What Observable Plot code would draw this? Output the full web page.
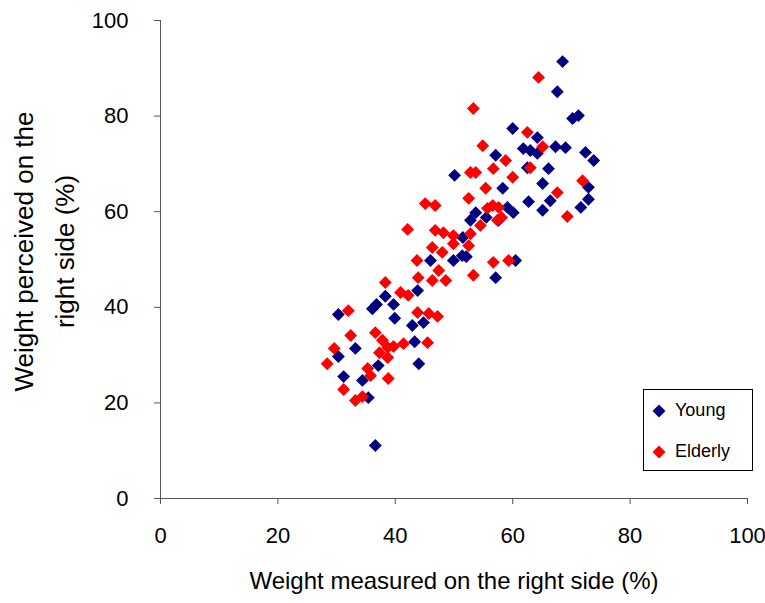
<!DOCTYPE html>
<html>
<head>
<meta charset="utf-8">
<script src="https://cdn.jsdelivr.net/npm/d3@7"></script>
<script src="https://cdn.jsdelivr.net/npm/@observablehq/plot@0.6"></script>
<style>
  html, body { margin: 0; padding: 0; background: #fff; }
  #wrap { position: relative; width: 765px; height: 603px; font-family: "Liberation Sans", Arial, sans-serif; }
  #legend { position: absolute; left: 643px; top: 389px; width: 108px; height: 80px; border: 1px solid #000; background: #fff; font-size: 18px; }
  #legend .row { position: absolute; left: 8px; display: flex; align-items: center; }
  #legend svg { margin-right: 9px; }
</style>
</head>
<body>
<div id="wrap"></div>
<script>
const seriesNames = ["Young", "Elderly"];
const seriesColors = ["#000080", "#FF0000"];
const xTicks = [0, 20, 40, 60, 80, 100];
const yTicks = [0, 20, 40, 60, 80, 100];
const xTitle = "Weight measured on the right side (%)";
const yTitle = "Weight perceived on the\nright side (%)";

const youngX = [30.3, 36.1, 36.8, 38.3, 39.7, 39.9, 42.9, 44.8, 43.3, 44.0, 33.2, 30.3, 31.2, 34.4, 37.1, 35.4, 36.6, 43.8,
  46.0, 49.9, 51.4, 52.1, 52.8, 51.5, 53.7, 55.5, 57.6, 57.1, 60.5, 57.1, 58.3, 59.1, 60.1, 62.7, 65.1, 66.4, 71.6, 72.9,
  72.9, 65.1, 62.5, 66.1, 73.8, 72.4, 69.0, 67.3, 64.2, 63.0, 61.8, 64.2, 60.0, 70.2, 71.2, 67.6, 68.5, 50.1];
const youngY = [38.5, 39.7, 40.6, 42.3, 40.6, 37.7, 36.2, 36.8, 32.8, 28.2, 31.4, 29.7, 25.5, 24.7, 27.8, 21.1, 11.1, 43.5,
  49.8, 49.8, 50.8, 50.6, 58.2, 54.6, 59.8, 58.8, 58.2, 46.2, 49.8, 71.8, 64.9, 60.9, 59.8, 62.1, 60.3, 62.3, 60.9, 62.6,
  65.1, 65.9, 69.2, 69.0, 70.7, 72.4, 73.4, 73.6, 72.2, 72.8, 73.2, 75.5, 77.4, 79.5, 80.1, 85.1, 91.4, 67.6];

const elderlyX = [32.0, 32.4, 29.6, 28.4, 31.2, 33.2, 34.4, 35.3, 35.8, 38.8, 36.6, 37.8, 38.7, 39.7, 37.3, 38.7, 41.4, 40.9,
  42.2, 43.8, 38.3, 42.1, 45.7, 47.2, 45.5, 46.8, 48.2, 49.9, 52.8, 46.3, 48.0, 49.9, 52.5, 43.7, 47.4, 46.3, 48.6, 43.9,
  53.3, 56.7, 59.3, 45.1, 46.8, 52.5, 55.7, 57.6, 56.6, 57.4, 58.1, 54.5, 55.4, 52.8, 53.7, 56.7, 58.8, 60.0, 63.0, 62.5,
  65.1, 54.9, 53.3, 64.4, 67.6, 71.9, 69.3];
const elderlyY = [39.3, 34.1, 31.4, 28.2, 22.8, 20.5, 21.3, 27.2, 25.7, 25.1, 34.7, 33.1, 31.6, 31.8, 30.5, 29.5, 32.4, 43.1,
  42.5, 38.9, 45.2, 56.3, 38.7, 38.1, 32.6, 56.1, 55.6, 55.0, 55.4, 52.5, 51.5, 53.3, 52.9, 49.8, 47.7, 45.6, 45.6, 46.2,
  46.7, 49.4, 49.8, 61.7, 61.3, 62.8, 60.7, 60.9, 61.3, 58.2, 58.8, 57.1, 64.9, 68.2, 68.2, 69.0, 70.7, 67.2, 69.2, 76.6,
  73.6, 73.8, 81.6, 88.1, 64.0, 66.5, 59.0];

const young = youngX.map((x, i) => ({x, y: youngY[i], s: seriesNames[0]}));
const elderly = elderlyX.map((x, i) => ({x, y: elderlyY[i], s: seriesNames[1]}));

const font = "'Liberation Sans', Arial, sans-serif";
const axisColor = "#555";

const chart = Plot.plot({
  width: 765,
  height: 603,
  marginLeft: 160,
  marginRight: 18,
  marginTop: 20,
  marginBottom: 105,
  style: {fontFamily: font, background: "#fff", color: "#000", overflow: "visible"},
  x: {domain: [0, 100]},
  y: {domain: [0, 100]},
  color: {domain: seriesNames, range: seriesColors},
  marks: [
    Plot.ruleX([0], {stroke: axisColor, strokeWidth: 1}),
    Plot.ruleY([0], {stroke: axisColor, strokeWidth: 1}),
    Plot.axisX({ticks: xTicks, tickSize: 6, tickPadding: 23, fontSize: 22, stroke: axisColor, fill: "#000", label: null}),
    Plot.axisY({ticks: yTicks, tickSize: 6, tickPadding: 26, fontSize: 22, stroke: axisColor, fill: "#000", label: null}),
    Plot.text([xTitle], {frameAnchor: "bottom", dy: 83, fontSize: 24, fill: "#000", lineAnchor: "middle"}),
    Plot.text([yTitle], {frameAnchor: "left", dx: -120, dy: -8, rotate: -90, textAnchor: "middle", fontSize: 26, fill: "#000", lineAnchor: "middle", lineHeight: 1.58}),
    Plot.dot(young, {x: "x", y: "y", fill: "s", symbol: "diamond2", r: 5.8, stroke: null}),
    Plot.dot(elderly, {x: "x", y: "y", fill: "s", symbol: "diamond2", r: 5.8, stroke: null})
  ]
});

const wrap = document.getElementById("wrap");
wrap.appendChild(chart);

const legend = document.createElement("div");
legend.id = "legend";
seriesNames.forEach((name, i) => {
  const row = document.createElement("div");
  row.className = "row";
  row.style.top = (i === 0 ? 10 : 51) + "px";
  row.innerHTML = `<svg width="14" height="14" viewBox="-7 -7 14 14"><path d="M0,-6.5L6.5,0L0,6.5L-6.5,0Z" fill="${seriesColors[i]}"/></svg><span>${name}</span>`;
  legend.appendChild(row);
});
wrap.appendChild(legend);
</script>
</body>
</html>
